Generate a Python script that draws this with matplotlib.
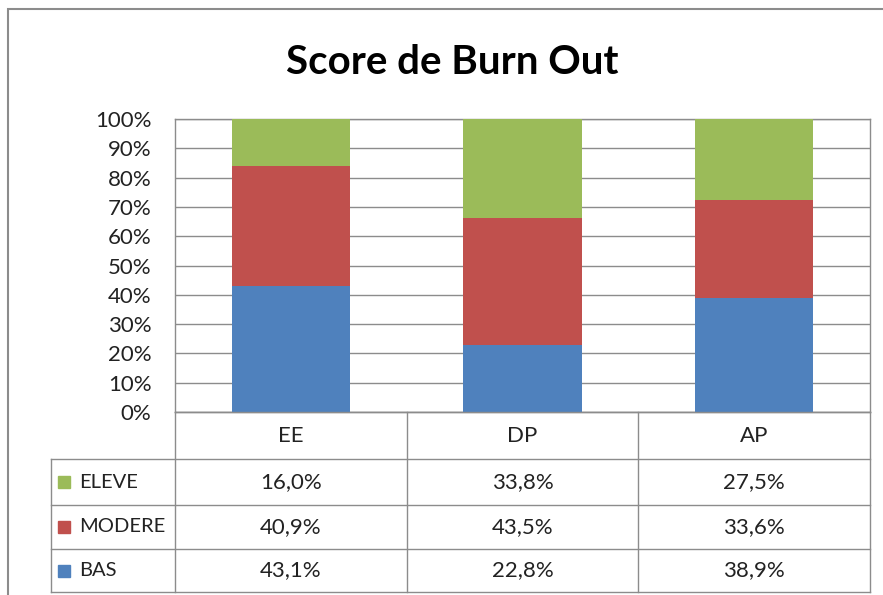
import numpy as np
import matplotlib
matplotlib.use('Agg')
import matplotlib.pyplot as plt
from matplotlib.patches import Rectangle

# ===== Data =====
categories = ["EE", "DP", "AP"]
series = ["ELEVE", "MODERE", "BAS"]          # table order (top -> bottom)
eleve = [16.0, 33.8, 27.5]
modere = [40.9, 43.5, 33.6]
bas = [43.1, 22.8, 38.9]
colors = {"ELEVE": "#9BBB59", "MODERE": "#C0504D", "BAS": "#4F81BD"}
yticks = np.arange(0, 101, 10)

plt.rcParams['font.family'] = ['Lato', 'DejaVu Sans']
W, H = 883, 595
fig = plt.figure(figsize=(W / 100, H / 100), dpi=100)
fig.patch.set_facecolor('white')

def fx(px): return px / W
def fy(py): return 1 - py / H

# outer chart border
fig.patches.append(Rectangle((fx(8), fy(640)), fx(900), 631 / H, transform=fig.transFigure,
                             fill=False, edgecolor='#8c8c8c', linewidth=1.5))

fig.text(fx(452), fy(62), "Score de Burn Out", ha='center', va='center',
         fontsize=29, fontweight='bold', color='black')

# ===== Bars =====
L, R, T, B = 175, 870, 119, 412
ax = fig.add_axes([fx(L), fy(B), fx(R - L), (B - T) / H])
x = np.arange(len(categories))
vals = {"BAS": bas, "MODERE": modere, "ELEVE": eleve}
bottom = np.zeros(len(categories))
for name in ["BAS", "MODERE", "ELEVE"]:
    v = np.array(vals[name])
    ax.bar(x, v, 0.51, bottom=bottom, color=colors[name], zorder=3)
    bottom += v
ax.set_xlim(-0.5, len(categories) - 0.5)
ax.set_ylim(0, 100)
ax.set_yticks(yticks)
ax.set_yticklabels([f"{t}%" for t in yticks], fontsize=16, color='#222222')
ax.set_xticks([])
ax.tick_params(axis='y', length=0, pad=17)
ax.grid(axis='y', color='#8c8c8c', linewidth=1, zorder=0)
for s in ax.spines.values():
    s.set_color('#8c8c8c'); s.set_linewidth(1)

# ===== Data table =====
tL, tT, tB = 51, 412, 592
col_edges = [L, 407, 638, R]
row_edges = [tT, 459, 505, 549, tB]
tax = fig.add_axes([fx(0), fy(H), 1, 1])
tax.set_xlim(0, W); tax.set_ylim(H, 0); tax.axis('off')
lc = '#8c8c8c'
# horizontal lines
tax.plot([L, R], [row_edges[0]] * 2, color=lc, lw=1)
for yy in row_edges[1:]:
    tax.plot([tL, R], [yy, yy], color=lc, lw=1)
# vertical lines
tax.plot([tL, tL], [row_edges[1], tB], color=lc, lw=1)
for xx in col_edges:
    tax.plot([xx, xx], [tT, tB], color=lc, lw=1)
# header
for i, c in enumerate(categories):
    tax.text((col_edges[i] + col_edges[i + 1]) / 2, (row_edges[0] + row_edges[1]) / 2 + 1, c,
             ha='center', va='center', fontsize=16, color='#222222')
table_vals = {"ELEVE": eleve, "MODERE": modere, "BAS": bas}
for r, name in enumerate(series):
    yc = (row_edges[r + 1] + row_edges[r + 2]) / 2
    tax.add_patch(Rectangle((58, yc - 6), 12, 12, color=colors[name]))
    tax.text(79, yc, name, ha='left', va='center', fontsize=14.5, color='#222222')
    for i, v in enumerate(table_vals[name]):
        tax.text((col_edges[i] + col_edges[i + 1]) / 2, yc, f"{v:.1f}%".replace('.', ','),
                 ha='center', va='center', fontsize=16, color='#222222')

fig.savefig("out.png", dpi=100)
